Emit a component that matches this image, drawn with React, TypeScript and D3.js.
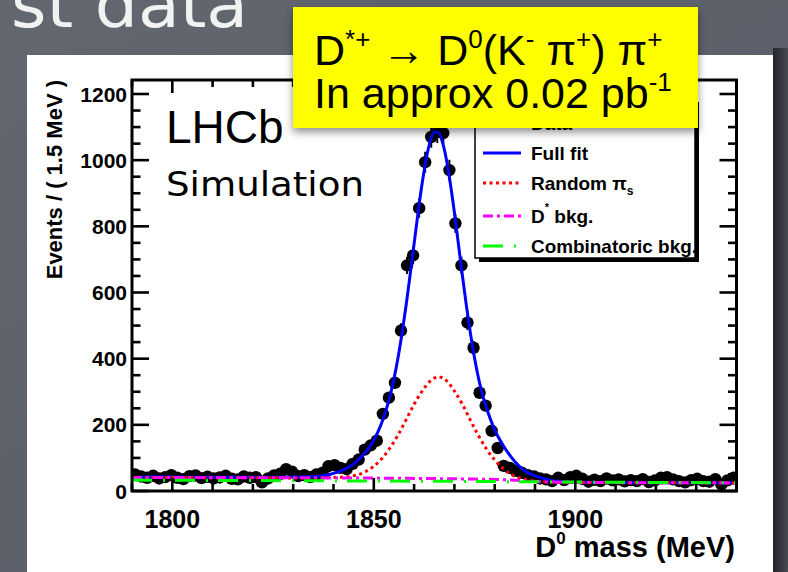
import React from "react";
import * as d3 from "d3";

// ---------------- data ----------------
const massMin = 1790;
const massMax = 1940;
const binWidth = 1.5;

// events per 1.5 MeV bin (100 bins, 1790 -> 1940)
const dataCounts = [
  50, 44, 40, 46, 38, 42, 48, 40, 36, 45,
  47, 39, 43, 38, 41, 46, 37, 35, 44, 40,
  42, 26, 38, 47, 52, 66, 58, 45, 48, 42,
  50, 55, 75, 78, 70, 66, 82, 95, 125, 138,
  152, 233, 282, 327, 485, 682, 712, 855, 994, 1070,
  1085, 1082, 970, 809, 682, 509, 433, 297, 258, 182,
  130, 76, 70, 61, 55, 48, 44, 38, 35, 30,
  40, 33, 42, 46, 37, 28, 34, 30, 38, 32,
  35, 29, 33, 30, 36, 27, 32, 40, 42, 35,
  30, 26, 33, 37, 30, 28, 36, 20, 32, 40,
];

// Full fit
const fullFitMass = [
  1790, 1800, 1810, 1820, 1830, 1835, 1837, 1839, 1841, 1843, 1845, 1847, 1849, 1851,
  1852, 1853, 1854, 1855, 1856, 1857, 1858, 1859, 1860, 1861, 1862, 1863, 1864, 1865,
  1866, 1867, 1868, 1869, 1870, 1871, 1872, 1873, 1874, 1875, 1876, 1877, 1878, 1879, 1880,
  1882, 1884, 1886, 1888, 1890, 1892, 1894, 1896, 1900, 1910, 1920, 1940,
];
const fullFitValue = [
  42, 42, 41.5, 41.5, 42, 43.5, 46, 50, 57, 67, 82, 104, 134, 178,
  207, 243, 286, 339, 402, 476, 560, 652, 747, 843, 930, 1004, 1057, 1085,
  1084, 1056, 1003, 929, 842, 746, 650, 558, 475, 402, 340, 290, 250, 215, 185,
  140, 104, 76, 57, 46, 38, 32, 29, 26.5, 25.5, 25, 24.5,
];

// Random pi_s (stacked)
const randomPiMass = [
  1790, 1820, 1836, 1840, 1844, 1848, 1850, 1852, 1854, 1856, 1858, 1860, 1862, 1864, 1866,
  1868, 1870, 1872, 1874, 1876, 1878, 1880, 1882, 1884, 1886, 1888, 1890, 1894, 1900, 1940,
];
const randomPiValue = [
  41, 40, 39.5, 41, 44, 59, 75, 98, 130, 169, 215, 262, 302, 332, 345,
  334, 302, 262, 213, 167, 126, 94, 69, 51, 40, 34, 30, 27, 26, 24.5,
];

// D* background (stacked)
const dstarMass = [1790, 1820, 1850, 1865, 1875, 1880, 1884, 1888, 1892, 1896, 1900, 1940];
const dstarValue = [41, 40, 39, 37.5, 36, 35, 33, 30, 27.5, 26.5, 26, 24.5];

// Combinatoric background
const combMass = [1790, 1830, 1865, 1900, 1940];
const combValue = [33, 31, 29.5, 27, 25];

const xMajorTicks = [1800, 1850, 1900];
const yMajorTicks = [0, 200, 400, 600, 800, 1000, 1200];

const legendLabels = ["Data", "Full fit", "Random π", "D", "Combinatoric bkg."];

// ---------------- layout ----------------
const W = 788;
const H = 572;
const frame = { left: 132, right: 736.5, top: 80, bottom: 491 };

const SANS = "'Liberation Sans', Arial, Helvetica, sans-serif";

export default function App() {
  const x = d3.scaleLinear().domain([massMin, massMax]).range([frame.left, frame.right]);
  const y = d3
    .scaleLinear()
    .domain([0, 1200])
    .range([frame.bottom, 94]);

  const bins = dataCounts.map((v, i) => ({
    m: massMin + binWidth * (i + 0.5),
    v,
    e: Math.sqrt(v),
  }));

  const line = (ms: number[], vs: number[]) =>
    d3
      .line<number>()
      .x((_, i) => x(ms[i]))
      .y((_, i) => y(vs[i]))
      .curve(d3.curveMonotoneX)(vs) as string;

  const xMinor = d3.range(massMin, massMax + 0.01, 10);
  const yMinor = d3.range(0, 1201, 50);

  const majLenY = 17;
  const minLenY = 8.5;
  const majLenX = 13;
  const minLenX = 7;

  const tickW = 2.6;

  // legend geometry
  const lg = { x0: 475, x1: 695, y0: 98, y1: 258 };
  const lgRows = [124, 153, 183, 216, 246];
  const sampleX0 = 483;
  const sampleX1 = 521;

  return (
    <svg
      width={W}
      height={H}
      viewBox={`0 0 ${W} ${H}`}
      style={{ position: "absolute", left: 0, top: 0, display: "block" }}
    >
      <defs>
        <linearGradient id="bgGrad" x1="0" y1="0" x2="1" y2="1">
          <stop offset="0" stopColor="#63676f" />
          <stop offset="0.6" stopColor="#5b5f69" />
          <stop offset="1" stopColor="#50535c" />
        </linearGradient>
        <linearGradient id="rightShadow" x1="0" y1="0" x2="1" y2="0">
          <stop offset="0" stopColor="#25262c" />
          <stop offset="0.5" stopColor="#34363d" />
          <stop offset="1" stopColor="#4a4d55" />
        </linearGradient>
        <filter id="yshadow" x="-10%" y="-10%" width="120%" height="140%">
          <feDropShadow dx="0" dy="4" stdDeviation="4" floodColor="#000" floodOpacity="0.45" />
        </filter>
        <clipPath id="plotClip">
          <rect x={frame.left} y={frame.top} width={frame.right - frame.left} height={frame.bottom - frame.top} />
        </clipPath>
      </defs>

      {/* slide background */}
      <rect x={0} y={0} width={W} height={H} fill="url(#bgGrad)" />
      <rect x={773} y={48} width={15} height={H - 48} fill="url(#rightShadow)" />

      {/* slide title (cut off at top) */}
      <text
        x={11}
        y={27}
        fontFamily="'DejaVu Sans', sans-serif"
        fontSize={64}
        fill="#f2f2f2"
        textLength={237}
        lengthAdjust="spacingAndGlyphs"
      >
        st data
      </text>

      {/* white panel */}
      <rect x={27} y={55} width={746} height={H - 55} fill="#ffffff" />

      {/* axis tick labels */}
      {yMajorTicks.map((t) => (
        <text
          key={"yl" + t}
          x={127}
          y={y(t) + 7.5}
          textAnchor="end"
          fontFamily={SANS}
          fontWeight="bold"
          fontSize={21}
          fill="#000"
        >
          {t}
        </text>
      ))}
      {xMajorTicks.map((t) => (
        <text
          key={"xl" + t}
          x={x(t)}
          y={528}
          textAnchor="middle"
          fontFamily={SANS}
          fontWeight="bold"
          fontSize={25}
          fill="#000"
        >
          {t}
        </text>
      ))}

      {/* axis titles */}
      <text
        transform={`translate(62, 80) rotate(-90)`}
        textAnchor="end"
        fontFamily={SANS}
        fontWeight="bold"
        fontSize={22}
        fill="#000"
      >
        Events / ( 1.5 MeV )
      </text>
      <text x={735} y={557} textAnchor="end" fontFamily={SANS} fontWeight="bold" fontSize={29} fill="#000">
        D
        <tspan dy={-13} fontSize={17}>
          0
        </tspan>
        <tspan dy={13}> mass (MeV)</tspan>
      </text>

      {/* data points */}
      <g clipPath="url(#plotClip)">
        {bins.map((b, i) => (
          <g key={"d" + i}>
            <line x1={x(b.m)} x2={x(b.m)} y1={y(b.v - b.e)} y2={y(b.v + b.e)} stroke="#000" strokeWidth={2} />
            <line
              x1={x(b.m - binWidth / 2)}
              x2={x(b.m + binWidth / 2)}
              y1={y(b.v)}
              y2={y(b.v)}
              stroke="#000"
              strokeWidth={2}
            />
            <circle cx={x(b.m)} cy={y(b.v)} r={6.2} fill="#000" />
          </g>
        ))}

        {/* fit curves */}
        <path d={line(fullFitMass, fullFitValue)} fill="none" stroke="#0000ff" strokeWidth={3} />
        <path
          d={line(randomPiMass, randomPiValue)}
          fill="none"
          stroke="#ff0000"
          strokeWidth={3}
          strokeDasharray="3,3.5"
        />
        <path
          d={line(dstarMass, dstarValue)}
          fill="none"
          stroke="#ff00ff"
          strokeWidth={3}
          strokeDasharray="10,4,3,4"
        />
        <path
          d={line(combMass, combValue)}
          fill="none"
          stroke="#00ff00"
          strokeWidth={3}
          strokeDasharray="20,11,2,10"
        />
      </g>

      {/* ticks */}
      <g stroke="#000" strokeWidth={tickW}>
        {xMinor.map((t) => {
          const major = xMajorTicks.includes(t);
          const L = major ? majLenX : minLenX;
          return (
            <g key={"xt" + t}>
              <line x1={x(t)} x2={x(t)} y1={frame.bottom} y2={frame.bottom - L} />
              <line x1={x(t)} x2={x(t)} y1={frame.top} y2={frame.top + L} />
            </g>
          );
        })}
        {yMinor.map((t) => {
          const major = yMajorTicks.includes(t);
          const L = major ? majLenY : minLenY;
          return (
            <g key={"yt" + t}>
              <line x1={frame.left} x2={frame.left + L} y1={y(t)} y2={y(t)} />
              <line x1={frame.right} x2={frame.right - L} y1={y(t)} y2={y(t)} />
            </g>
          );
        })}
      </g>

      {/* frame */}
      <rect
        x={frame.left}
        y={frame.top}
        width={frame.right - frame.left}
        height={frame.bottom - frame.top}
        fill="none"
        stroke="#000"
        strokeWidth={3}
      />

      {/* LHCb label */}
      <text x={166} y={143} fontFamily={SANS} fontSize={46} fill="#000">
        LHCb
      </text>
      <text
        x={166}
        y={196}
        fontFamily="'DejaVu Sans', sans-serif"
        fontSize={33}
        fill="#000"
        textLength={198}
        lengthAdjust="spacingAndGlyphs"
      >
        Simulation
      </text>

      {/* legend */}
      <rect x={lg.x0 + 4} y={lg.y0 + 4} width={lg.x1 - lg.x0} height={lg.y1 - lg.y0} fill="#000" />
      <rect
        x={lg.x0}
        y={lg.y0}
        width={lg.x1 - lg.x0}
        height={lg.y1 - lg.y0}
        fill="#fff"
        stroke="#000"
        strokeWidth={1.5}
      />
      <circle cx={(sampleX0 + sampleX1) / 2} cy={lgRows[0] - 6} r={5} fill="#000" />
      <line x1={sampleX0} x2={sampleX1} y1={lgRows[1]} y2={lgRows[1]} stroke="#0000ff" strokeWidth={3} />
      <line
        x1={sampleX0}
        x2={sampleX1}
        y1={lgRows[2]}
        y2={lgRows[2]}
        stroke="#ff0000"
        strokeWidth={3}
        strokeDasharray="3,3.5"
      />
      <line
        x1={sampleX0}
        x2={sampleX1}
        y1={lgRows[3]}
        y2={lgRows[3]}
        stroke="#ff00ff"
        strokeWidth={3}
        strokeDasharray="10,4,3,4"
      />
      <line
        x1={sampleX0}
        x2={sampleX1 + 2}
        y1={lgRows[4]}
        y2={lgRows[4]}
        stroke="#00ff00"
        strokeWidth={3}
        strokeDasharray="20,11,2,10"
      />
      <g fontFamily={SANS} fontWeight="bold" fontSize={19} fill="#000">
        <text x={531} y={lgRows[0] + 6}>
          {legendLabels[0]}
        </text>
        <text x={531} y={lgRows[1] + 7}>
          {legendLabels[1]}
        </text>
        <text x={531} y={lgRows[2] + 7}>
          {legendLabels[2]}
          <tspan dy={5} fontSize={12}>
            s
          </tspan>
        </text>
        <text x={531} y={lgRows[3] + 7}>
          {legendLabels[3]}
          <tspan dy={-12} fontSize={11}>
            *
          </tspan>
          <tspan dy={12}> bkg.</tspan>
        </text>
        <text x={531} y={lgRows[4] + 7} textLength={166} lengthAdjust="spacingAndGlyphs">
          {legendLabels[4]}
        </text>
      </g>

      {/* yellow annotation box */}
      <g filter="url(#yshadow)">
        <rect x={293} y={7} width={405} height={121} fill="#ffff00" />
      </g>
      <g fontFamily={SANS} fontSize={43} fill="#000">
        <text x={314} y={65}>
          D
          <tspan dy={-17} fontSize={26}>
            *+
          </tspan>
          <tspan dy={17}> → D</tspan>
          <tspan dy={-17} fontSize={26}>
            0
          </tspan>
          <tspan dy={17}>(K</tspan>
          <tspan dy={-17} fontSize={26}>
            -
          </tspan>
          <tspan dy={17}> π</tspan>
          <tspan dy={-17} fontSize={26}>
            +
          </tspan>
          <tspan dy={17}>) π</tspan>
          <tspan dy={-17} fontSize={26}>
            +
          </tspan>
        </text>
        <text x={314} y={108}>
          In approx 0.02 pb
          <tspan dy={-17} fontSize={26}>
            -1
          </tspan>
        </text>
      </g>
    </svg>
  );
}
